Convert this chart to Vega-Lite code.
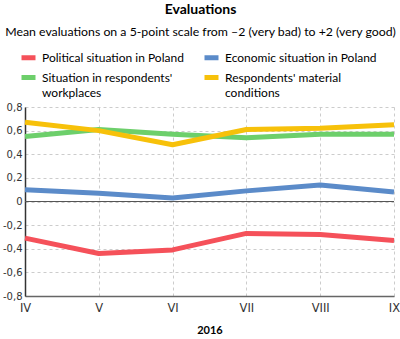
{
  "$schema": "https://vega.github.io/schema/vega-lite/v6.json",
  "width": 369,
  "height": 189,
  "autosize": "none",
  "padding": {"left": 25, "top": 107, "right": 6, "bottom": 43},
  "title": {
    "text": "Evaluations",
    "subtitle": "Mean evaluations on a 5-point scale from –2 (very bad) to +2 (very good)",
    "anchor": "middle",
    "frame": "group",
    "dx": -9,
    "offset": 10,
    "font": "Lato",
    "fontSize": 14,
    "fontWeight": "bold",
    "color": "#000000",
    "subtitleFont": "Lato",
    "subtitleFontSize": 12.3,
    "subtitleColor": "#000000",
    "subtitlePadding": 9
  },
  "data": {
    "values": [
      {"month": "IV", "series": "Political situation in Poland", "value": -0.31},
      {"month": "V", "series": "Political situation in Poland", "value": -0.44},
      {"month": "VI", "series": "Political situation in Poland", "value": -0.41},
      {"month": "VII", "series": "Political situation in Poland", "value": -0.27},
      {"month": "VIII", "series": "Political situation in Poland", "value": -0.28},
      {"month": "IX", "series": "Political situation in Poland", "value": -0.33},
      {"month": "IV", "series": "Economic situation in Poland", "value": 0.10},
      {"month": "V", "series": "Economic situation in Poland", "value": 0.07},
      {"month": "VI", "series": "Economic situation in Poland", "value": 0.03},
      {"month": "VII", "series": "Economic situation in Poland", "value": 0.09},
      {"month": "VIII", "series": "Economic situation in Poland", "value": 0.14},
      {"month": "IX", "series": "Economic situation in Poland", "value": 0.08},
      {"month": "IV", "series": "Situation in respondents' workplaces", "value": 0.55},
      {"month": "V", "series": "Situation in respondents' workplaces", "value": 0.61},
      {"month": "VI", "series": "Situation in respondents' workplaces", "value": 0.57},
      {"month": "VII", "series": "Situation in respondents' workplaces", "value": 0.54},
      {"month": "VIII", "series": "Situation in respondents' workplaces", "value": 0.57},
      {"month": "IX", "series": "Situation in respondents' workplaces", "value": 0.57},
      {"month": "IV", "series": "Respondents' material conditions", "value": 0.67},
      {"month": "V", "series": "Respondents' material conditions", "value": 0.60},
      {"month": "VI", "series": "Respondents' material conditions", "value": 0.48},
      {"month": "VII", "series": "Respondents' material conditions", "value": 0.61},
      {"month": "VIII", "series": "Respondents' material conditions", "value": 0.62},
      {"month": "IX", "series": "Respondents' material conditions", "value": 0.65}
    ]
  },
  "resolve": {"axis": {"y": "independent"}},
  "layer": [
    {
      "mark": {"type": "line", "strokeWidth": 5, "strokeJoin": "round", "strokeCap": "butt"},
      "encoding": {
        "x": {
          "field": "month",
          "type": "ordinal",
          "sort": ["IV", "V", "VI", "VII", "VIII", "IX"],
          "scale": {"type": "point", "padding": 0},
          "axis": {
            "title": "2016",
            "titleFont": "Lato",
            "titleFontSize": 11,
            "titleFontWeight": "bold",
            "titleColor": "#000000",
            "titlePadding": 11,
            "labelAngle": 0,
            "labelAlign": "center",
            "labelBound": false,
            "labelFlush": false,
            "labelOverlap": false,
            "labelFont": "DejaVu Sans",
            "labelFontSize": 11.5,
            "labelColor": "#333333",
            "labelPadding": 6,
            "ticks": false,
            "domainColor": "#666666",
            "domainWidth": 1.5,
            "grid": true,
            "gridColor": "#cccccc",
            "gridDash": [3, 3]
          }
        },
        "y": {
          "field": "value",
          "type": "quantitative",
          "scale": {"domain": [-0.8, 0.8], "nice": false},
          "axis": {
            "title": null,
            "values": [-0.8, -0.6, -0.4, -0.2, 0, 0.2, 0.4, 0.6, 0.8],
            "labelOverlap": false,
            "labelExpr": "datum.value == 0 ? '0' : replace(replace(format(datum.value, '.1f'), '.', ','), '−', '-')",
            "labelFont": "DejaVu Sans",
            "labelFontSize": 10,
            "labelColor": "#333333",
            "labelPadding": 3,
            "ticks": false,
            "domainColor": "#333333",
            "domainWidth": 1.5,
            "grid": true,
            "gridColor": "#cccccc",
            "gridDash": [3, 3]
          }
        },
        "color": {
          "field": "series",
          "type": "nominal",
          "scale": {
            "domain": ["Political situation in Poland", "Economic situation in Poland", "Situation in respondents' workplaces", "Respondents' material conditions"],
            "range": ["#f5515a", "#5b8bc9", "#6dcf6b", "#f7c10a"]
          },
          "legend": {
            "orient": "none",
            "legendX": -6,
            "legendY": -59,
            "direction": "horizontal",
            "columns": 2,
            "title": null,
            "symbolType": "stroke",
            "symbolStrokeWidth": 5,
            "symbolSize": 196,
            "labelFont": "Lato",
            "labelFontSize": 12,
            "labelColor": "#000000",
            "labelLimit": 0,
            "columnPadding": 10,
            "rowPadding": -11,
            "labelExpr": "datum.label == \"Situation in respondents' workplaces\" ? [\"Situation in respondents'\", 'workplaces'] : datum.label == \"Respondents' material conditions\" ? [\"Respondents' material\", 'conditions'] : datum.label",
            "encode": {"labels": {"update": {"lineHeight": {"value": 15}}}}
          }
        }
      }
    },
    {
      "mark": {"type": "rule", "color": "#555555", "strokeWidth": 1.2},
      "encoding": {"y": {"datum": 0, "type": "quantitative", "axis": null}}
    }
  ],
  "config": {
    "view": {"stroke": null},
    "background": "#ffffff"
  }
}
